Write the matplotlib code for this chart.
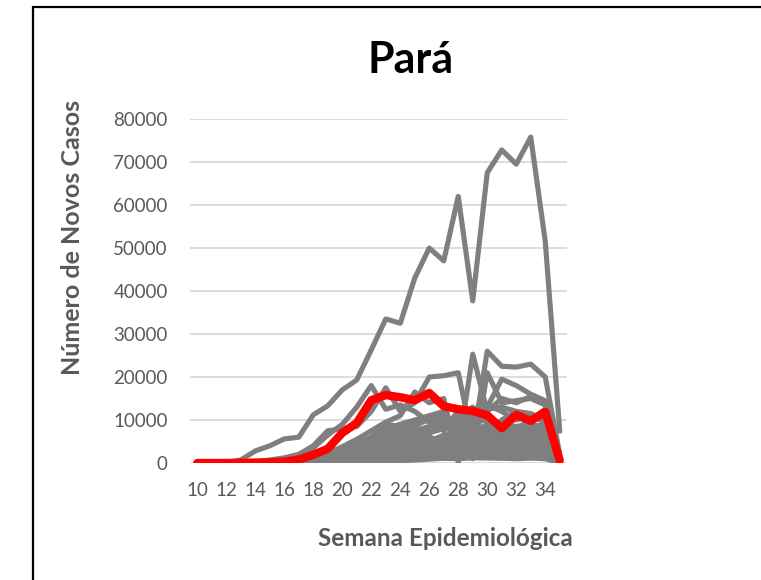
import matplotlib.pyplot as plt
from matplotlib.patches import Rectangle

plt.rcParams['font.family'] = ['Lato', 'DejaVu Sans']

# Epidemiological weeks
weeks = list(range(10, 36))

# Pará (highlighted)
para = [0, 0, 0, 50, 100, 150, 300, 800, 1900, 3300, 7000, 9300, 14600, 15800,
        15300, 14600, 16300, 13200, 12500, 12100, 11100, 8100, 11200, 9800, 11900, 600]

# Other states (gray)
sp = [0, 0, 100, 700, 2800, 4000, 5600, 6000, 11200, 13300, 17000, 19300, 26300, 33500,
      32500, 43000, 50000, 47000, 62000, 37700, 67500, 72800, 69500, 75800, 51600, 7400]
s02 = [0, 0, 0, 100, 300, 700, 1200, 2000, 4000, 7500, 8000, 8500, 12000, 17500,
       12000, 14000, 20000, 20300, 21000, 5000, 26000, 22500, 22300, 23000, 20000, 2000]
s03 = [0, 0, 0, 50, 200, 500, 1000, 1800, 3500, 6500, 9000, 13000, 18000, 12500,
       13500, 12000, 9500, 11000, 9000, 6000, 7500, 6000, 5500, 6000, 5000, 800]
s04 = [0, 0, 0, 0, 100, 200, 400, 700, 1200, 2000, 3000, 4500, 6000, 8000,
       9000, 10000, 11000, 12000, 3000, 25300, 12000, 15000, 14000, 15500, 14000, 1500]
s05 = [0, 0, 0, 0, 50, 100, 200, 400, 800, 1500, 2500, 4000, 6000, 9000,
       8500, 9000, 10000, 11000, 9000, 1000, 21000, 14000, 14500, 15000, 13500, 1000]
s06 = [0, 0, 0, 0, 50, 150, 300, 600, 1200, 2200, 3800, 5500, 7500, 9500,
       11000, 16500, 14000, 15000, 200, 12000, 13000, 19500, 18000, 16000, 14500, 1200]
s07 = [0, 0, 0, 0, 30, 80, 200, 400, 900, 1600, 2500, 3800, 5200, 7000,
       8000, 9000, 10500, 9500, 10000, 11000, 12500, 13000, 12000, 11500, 10000, 700]
s08 = [0, 0, 0, 0, 20, 60, 150, 300, 600, 1100, 2000, 3200, 4500, 5500,
       6500, 7500, 8500, 9000, 11000, 13000, 9500, 8000, 7500, 8500, 9000, 600]
s09 = [0, 0, 0, 0, 10, 40, 100, 250, 500, 900, 1500, 2500, 3500, 4500,
       5500, 6800, 7000, 8000, 8500, 9500, 10000, 9000, 8500, 9000, 8000, 500]
s10 = [0, 0, 0, 0, 10, 30, 80, 200, 400, 700, 1200, 2000, 3000, 4000,
       5000, 6000, 5000, 6500, 7000, 7500, 8000, 7000, 6500, 7500, 6000, 400]
s11 = [0, 0, 0, 0, 0, 20, 60, 150, 300, 600, 1000, 1600, 2500, 3200,
       4000, 4500, 5500, 4000, 6000, 5000, 6500, 7500, 8000, 7000, 5500, 400]
s12 = [0, 0, 0, 0, 0, 10, 40, 100, 250, 500, 900, 1400, 2000, 2800,
       3500, 4200, 5000, 6000, 5500, 6500, 7000, 6000, 5000, 5500, 6000, 300]
s13 = [0, 0, 0, 0, 0, 10, 30, 80, 200, 400, 700, 1100, 1600, 2300,
       3000, 3600, 4300, 5000, 4500, 5200, 6000, 5500, 4800, 5200, 4500, 300]
s14 = [0, 0, 0, 0, 0, 0, 20, 60, 150, 300, 500, 900, 1300, 1800,
       2400, 3000, 3600, 4200, 4800, 4000, 5000, 4500, 4000, 4200, 4000, 250]
s15 = [0, 0, 0, 0, 0, 0, 10, 40, 100, 200, 400, 700, 1000, 1500,
       2000, 2600, 3200, 3800, 3500, 4300, 3800, 3500, 3200, 3600, 3000, 200]
s16 = [0, 0, 0, 0, 0, 0, 10, 30, 80, 150, 300, 500, 800, 1200,
       1600, 2000, 2500, 3000, 2700, 3300, 3000, 2800, 2600, 2900, 2500, 200]
s17 = [0, 0, 0, 0, 0, 0, 0, 20, 50, 100, 200, 400, 600, 900,
       1200, 1500, 1900, 2300, 2100, 2600, 2400, 2200, 2000, 2300, 2000, 150]
s18 = [0, 0, 0, 0, 0, 0, 0, 10, 30, 60, 120, 250, 400, 600,
       800, 1000, 1300, 1600, 1500, 1800, 1700, 1600, 1500, 1700, 1500, 100]
s19 = [0, 0, 0, 0, 0, 0, 0, 10, 20, 40, 80, 150, 250, 400,
       550, 700, 900, 1100, 1000, 1200, 1150, 1100, 1000, 1150, 1000, 80]
s20 = [0, 0, 0, 0, 20, 50, 100, 200, 500, 1000, 2000, 3000, 4500, 6000,
       7000, 6500, 8000, 9500, 7000, 11000, 6000, 10000, 12000, 9000, 7000, 500]
s21 = [0, 0, 0, 0, 0, 20, 50, 150, 300, 700, 1300, 2200, 3500, 5000,
       6500, 8500, 10500, 7500, 9500, 8000, 13500, 12000, 10000, 11000, 9500, 600]
s22 = [0, 0, 0, 0, 0, 10, 30, 100, 200, 500, 1000, 1800, 3000, 4500,
       6000, 5000, 7500, 8000, 12000, 6000, 7000, 9000, 8000, 10000, 12500, 800]
s23 = [0, 0, 0, 0, 0, 0, 20, 60, 150, 350, 700, 1200, 2000, 3000,
       4000, 5500, 4500, 6000, 7000, 8000, 5500, 7000, 6500, 8000, 7500, 400]
s24 = [0, 0, 0, 0, 0, 0, 10, 30, 80, 200, 400, 800, 1500, 2500,
       3500, 4200, 6000, 5000, 5800, 6800, 9000, 6500, 7800, 6000, 8500, 500]
s25 = [0, 0, 0, 0, 0, 0, 0, 20, 50, 120, 250, 500, 900, 1400,
       2000, 2700, 3500, 4500, 4000, 5500, 6000, 4800, 5800, 6200, 5000, 300]
s26 = [0, 0, 0, 0, 0, 0, 0, 10, 30, 80, 180, 350, 700, 1100,
       1600, 2200, 2800, 3300, 3800, 4200, 3600, 4500, 4000, 3800, 4400, 250]

others = [sp, s02, s03, s04, s05, s06, s07, s08, s09, s10, s11, s12, s13,
          s14, s15, s16, s17, s18, s19, s20, s21, s22, s23, s24, s25, s26]

yticks = list(range(0, 80001, 10000))
xticks = list(range(10, 35, 2))

fig = plt.figure(figsize=(7.61, 5.80), dpi=100)

# chart frame (cropped at right and bottom)
fig.patches.append(Rectangle((33 / 761, -0.1), 1.2, 1.1 - 7 / 580, transform=fig.transFigure,
                             fill=False, edgecolor='black', linewidth=1.6))

ax = fig.add_axes([190 / 761, 1 - 463 / 580, 377 / 761, 344 / 580])

for s in others:
    ax.plot(weeks, s, color='#7f7f7f', linewidth=3.7, solid_joinstyle='round',
            solid_capstyle='round', zorder=2)
ax.plot(weeks, para, color='#ff0000', linewidth=6, solid_joinstyle='round',
        solid_capstyle='round', zorder=3)

ax.set_xlim(9.5, 35.5)
ax.set_ylim(0, 80000)
ax.set_yticks(yticks)
ax.set_xticks(xticks)
ax.grid(axis='y', color='#d9d9d9', linewidth=1.3, zorder=0)
ax.set_axisbelow(True)
for sp_name in ax.spines:
    ax.spines[sp_name].set_visible(False)
ax.tick_params(length=0, labelsize=13.5, labelcolor='#595959')
ax.tick_params(axis='y', pad=16)
ax.tick_params(axis='x', pad=14)

fig.text(411 / 761, 1 - 60 / 580, 'Pará', ha='center', va='center',
         fontsize=31, fontweight='bold', color='black')
fig.text(73 / 761, 1 - 237 / 580, 'Número de Novos Casos', rotation=90,
         ha='center', va='center', fontsize=18, fontweight='bold', color='#595959')
fig.text(445 / 761, 1 - 538 / 580, 'Semana Epidemiológica', ha='center', va='center',
         fontsize=17.5, fontweight='bold', color='#595959')

plt.savefig('out.png', dpi=100)
